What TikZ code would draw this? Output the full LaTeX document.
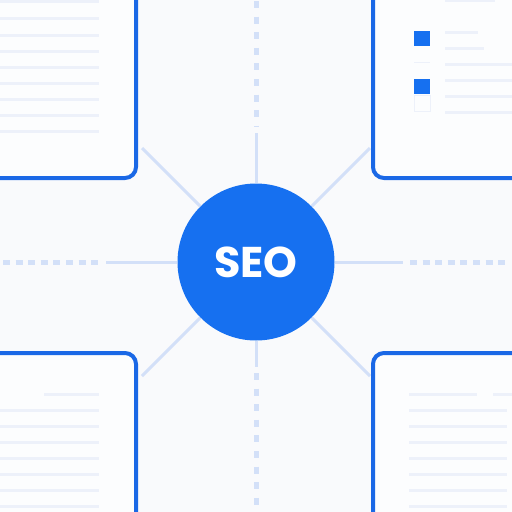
\documentclass[tikz,border=0pt]{standalone}
\usepackage{fontspec}
\newfontfamily\seofont{Poppins}
\usetikzlibrary{calc}
\definecolor{paper}{HTML}{F9FAFC}
\definecolor{cardfill}{HTML}{FCFDFE}
\definecolor{seoblue}{HTML}{1670F0}
\definecolor{cardblue}{HTML}{1A68E6}
\definecolor{spokeblue}{HTML}{D3E0F8}
\definecolor{textgrey}{HTML}{EDF1FA}
\tikzset{
  card/.style={draw=cardblue, line width=4, rounded corners=11, fill=cardfill},
  textline/.style={draw=textgrey, line width=3},
  spoke/.style={draw=spokeblue, line width=3},
  hdots/.style={draw=spokeblue, line width=5, dash pattern=on 7 off 5.6},
  vdots/.style={draw=spokeblue, line width=5, dash pattern=on 7 off 8.6},
  hub/.style={circle, fill=seoblue, minimum size=157, inner sep=0,
    text=white, font=\seofont\bfseries\fontsize{43}{43}\selectfont}
}
\begin{document}
\begin{tikzpicture}[x=1pt,y=-1pt]
			%%%%% START %%%%%
			\useasboundingbox (0,0) rectangle (512,512);
			\fill[paper] (0,0) rectangle (512,512);
			\clip (0,0) rectangle (512,512);
			
			% cards
			\draw[card] (-20,-20) rectangle (136,178);
			\draw[card] (373,-20) rectangle (532,178);
			\draw[card] (-20,353) rectangle (136,532);
			\draw[card] (373,353) rectangle (532,532);
			
			% top left card
			\foreach \y in {1,18,35,51,67,83,99,115,131}
				\draw[textline] (0,\y) -- (99,\y);
			
			% top right card
			\fill[seoblue] (414,31) rectangle (430,46);
			\fill[seoblue] (414,79) rectangle (430,94);
			\draw[textgrey, line width=1] (414,95) rectangle (430,111);
			\draw[textgrey, line width=1] (414,62) -- (430,62);
			\draw[textline] (445,0) -- (495,0);
			\draw[textline] (445,32) -- (478,32);
			\draw[textline] (445,48) -- (484,48);
			\foreach \y in {64,80,96,112}
				\draw[textline] (445,\y) -- (512,\y);
			
			% bottom left card
			\draw[textline] (44,394) -- (99,394);
			\foreach \y in {410,426,442,458,474,490,506}
				\draw[textline] (0,\y) -- (99,\y);
			
			% bottom right card
			\draw[textline] (409,394) -- (477,394);
			\draw[textline] (493,394) -- (512,394);
			\foreach \y in {410,426,442,458,474,490,506}
				\draw[textline] (409,\y) -- (507,\y);
			
			% hub
			\node[hub] (seo) at (256,262) {SEO};
			
			\coordinate (w0) at (3,262);
			\coordinate (w1) at (100,262);
			\coordinate (w2) at (106,262);
			\coordinate (e0) at (509,262);
			\coordinate (e1) at (410,262);
			\coordinate (e2) at (403,262);
			\coordinate (n0) at (256,1);
			\coordinate (n1) at (256,127);
			\coordinate (n2) at (256,133);
			\coordinate (s0) at (256,511);
			\coordinate (s1) at (256,373);
			\coordinate (s2) at (256,367);
			\coordinate (nw) at (142,148);
			\coordinate (ne) at (370,148);
			\coordinate (sw) at (142,376);
			\coordinate (se) at (370,376);
			
			\draw[spoke] (seo) -- (w2);
			\draw[spoke] (seo) -- (e2);
			\draw[spoke] (seo) -- (n2);
			\draw[spoke] (seo) -- (s2);
			\draw[hdots] (w0) -- (w1);
			\draw[hdots] (e1) -- (e0);
			\draw[vdots] (n0) -- (n1);
			\draw[vdots] (s1) -- (s0);
			
			\foreach \c in {nw,ne,sw,se}
				\draw[spoke] (seo) -- (\c);
			%%%%% END %%%%%
\end{tikzpicture}
\end{document}
